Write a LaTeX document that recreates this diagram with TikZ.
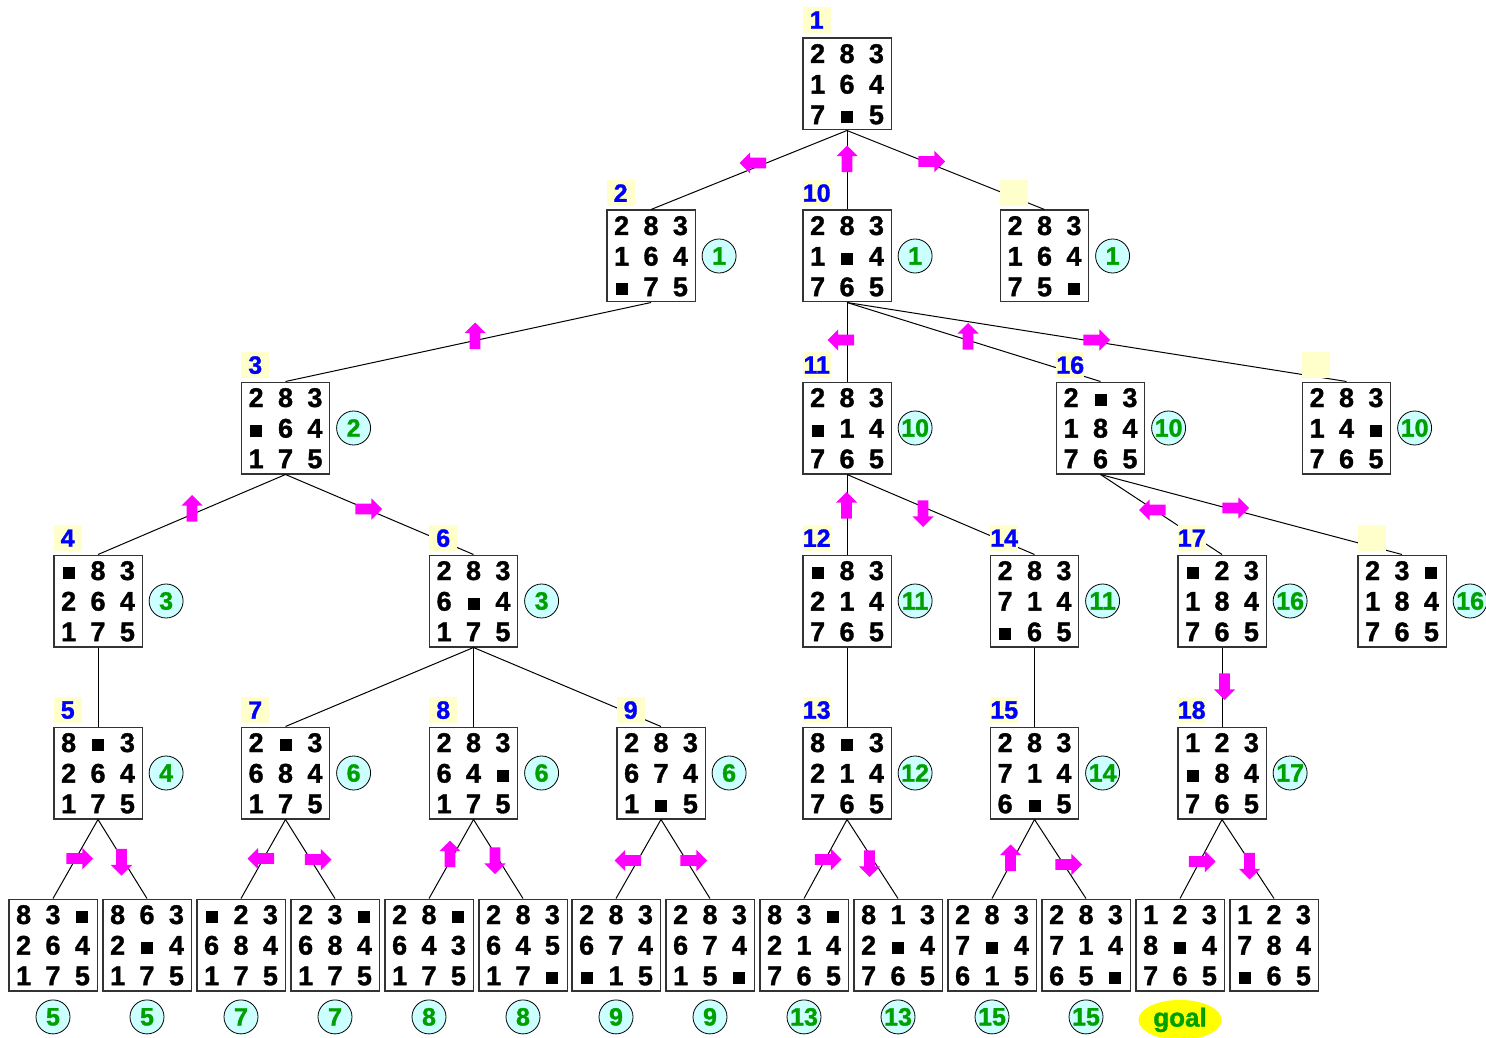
\documentclass[tikz,border=0pt]{standalone}
\usepackage{fontspec}
\setmainfont{Liberation Sans Bold}[FakeBold=1.3]
\usetikzlibrary{matrix, positioning, shapes.geometric, shapes.arrows}

\definecolor{tagbg}{HTML}{FFFFCC}
\definecolor{tagblue}{HTML}{0000FF}
\definecolor{costbg}{HTML}{CCFFFF}
\definecolor{costgreen}{HTML}{00A000}
\definecolor{movemag}{HTML}{FF00FF}
\definecolor{goalbg}{HTML}{FFFF00}

\newcommand{\hole}{\rule[0.5pt]{6pt}{6pt}}

\begin{document}
\begin{tikzpicture}[
    x=0.5pt, y=-0.5pt,
    board/.style={matrix of nodes, draw=black!80, line width=0.6pt, fill=white, inner sep=0pt,
      nodes={minimum width=14.7pt, minimum height=15.3pt, text height=9.6pt, text depth=0pt, inner sep=0pt, font=\fontsize{13.5}{16}\selectfont}},
    tag/.style={fill=tagbg, text=tagblue, minimum width=14pt, minimum height=13pt, inner sep=0pt, font=\fontsize{12.5}{14}\selectfont},
    cost/.style={circle, draw, line width=0.4pt, fill=costbg, text=costgreen, minimum size=17pt, inner sep=0pt, font=\fontsize{12.5}{14}\selectfont},
    goal/.style={ellipse, fill=goalbg, text=costgreen, minimum width=41.5pt, minimum height=20pt, inner sep=0pt, font=\fontsize{13}{14}\selectfont},
    edge/.style={line width=0.5pt},
    move/.style={single arrow, fill=movemag, inner sep=2.5pt, minimum height=13.3pt, minimum width=10.3pt, single arrow head extend=2.6pt},
    moveleft/.style={move, shape border rotate=180},
    moveright/.style={move, shape border rotate=0},
    moveup/.style={move, shape border rotate=90},
    movedown/.style={move, shape border rotate=270}
]
\useasboundingbox (0,0) rectangle (1486,1037);

% Level 0
\matrix (n1) [board] at (847,84) {2 & 8 & 3\\ 1 & 6 & 4\\ 7 & \hole & 5\\};

% Level 1
\matrix (n2) [board] at (651,256) {2 & 8 & 3\\ 1 & 6 & 4\\ \hole & 7 & 5\\};
\matrix (n10) [board] at (847,256) {2 & 8 & 3\\ 1 & \hole & 4\\ 7 & 6 & 5\\};
\matrix (r2) [board] at (1044.5,256) {2 & 8 & 3\\ 1 & 6 & 4\\ 7 & 5 & \hole\\};

% Level 2
\matrix (n3) [board] at (285.5,428) {2 & 8 & 3\\ \hole & 6 & 4\\ 1 & 7 & 5\\};
\matrix (n11) [board] at (847,428) {2 & 8 & 3\\ \hole & 1 & 4\\ 7 & 6 & 5\\};
\matrix (n16) [board] at (1100.5,428) {2 & \hole & 3\\ 1 & 8 & 4\\ 7 & 6 & 5\\};
\matrix (r3) [board] at (1346.5,428) {2 & 8 & 3\\ 1 & 4 & \hole\\ 7 & 6 & 5\\};

% Level 3
\matrix (n4) [board] at (98,601) {\hole & 8 & 3\\ 2 & 6 & 4\\ 1 & 7 & 5\\};
\matrix (n6) [board] at (473.5,601) {2 & 8 & 3\\ 6 & \hole & 4\\ 1 & 7 & 5\\};
\matrix (n12) [board] at (847,601) {\hole & 8 & 3\\ 2 & 1 & 4\\ 7 & 6 & 5\\};
\matrix (n14) [board] at (1034.5,601) {2 & 8 & 3\\ 7 & 1 & 4\\ \hole & 6 & 5\\};
\matrix (n17) [board] at (1222,601) {\hole & 2 & 3\\ 1 & 8 & 4\\ 7 & 6 & 5\\};
\matrix (r4) [board] at (1402,601) {2 & 3 & \hole\\ 1 & 8 & 4\\ 7 & 6 & 5\\};

% Level 4
\matrix (n5) [board] at (98,773) {8 & \hole & 3\\ 2 & 6 & 4\\ 1 & 7 & 5\\};
\matrix (n7) [board] at (285.5,773) {2 & \hole & 3\\ 6 & 8 & 4\\ 1 & 7 & 5\\};
\matrix (n8) [board] at (473.5,773) {2 & 8 & 3\\ 6 & 4 & \hole\\ 1 & 7 & 5\\};
\matrix (n9) [board] at (661,773) {2 & 8 & 3\\ 6 & 7 & 4\\ 1 & \hole & 5\\};
\matrix (n13) [board] at (847,773) {8 & \hole & 3\\ 2 & 1 & 4\\ 7 & 6 & 5\\};
\matrix (n15) [board] at (1034.5,773) {2 & 8 & 3\\ 7 & 1 & 4\\ 6 & \hole & 5\\};
\matrix (n18) [board] at (1222,773) {1 & 2 & 3\\ \hole & 8 & 4\\ 7 & 6 & 5\\};

% Level 5
\matrix (b1) [board] at (53,945) {8 & 3 & \hole\\ 2 & 6 & 4\\ 1 & 7 & 5\\};
\matrix (b2) [board] at (147,945) {8 & 6 & 3\\ 2 & \hole & 4\\ 1 & 7 & 5\\};
\matrix (b3) [board] at (241,945) {\hole & 2 & 3\\ 6 & 8 & 4\\ 1 & 7 & 5\\};
\matrix (b4) [board] at (335,945) {2 & 3 & \hole\\ 6 & 8 & 4\\ 1 & 7 & 5\\};
\matrix (b5) [board] at (429,945) {2 & 8 & \hole\\ 6 & 4 & 3\\ 1 & 7 & 5\\};
\matrix (b6) [board] at (523,945) {2 & 8 & 3\\ 6 & 4 & 5\\ 1 & 7 & \hole\\};
\matrix (b7) [board] at (616,945) {2 & 8 & 3\\ 6 & 7 & 4\\ \hole & 1 & 5\\};
\matrix (b8) [board] at (710,945) {2 & 8 & 3\\ 6 & 7 & 4\\ 1 & 5 & \hole\\};
\matrix (b9) [board] at (804,945) {8 & 3 & \hole\\ 2 & 1 & 4\\ 7 & 6 & 5\\};
\matrix (b10) [board] at (898,945) {8 & 1 & 3\\ 2 & \hole & 4\\ 7 & 6 & 5\\};
\matrix (b11) [board] at (992,945) {2 & 8 & 3\\ 7 & \hole & 4\\ 6 & 1 & 5\\};
\matrix (b12) [board] at (1086,945) {2 & 8 & 3\\ 7 & 1 & 4\\ 6 & 5 & \hole\\};
\matrix (b13) [board] at (1180,945) {1 & 2 & 3\\ 8 & \hole & 4\\ 7 & 6 & 5\\};
\matrix (b14) [board] at (1274,945) {1 & 2 & 3\\ 7 & 8 & 4\\ \hole & 6 & 5\\};

% Tree edges
\draw [edge] (n1.south) -- (n2.north);
\draw [edge] (n1.south) -- (n10.north);
\draw [edge] (n1.south) -- (r2.north);
\draw [edge] (n2.south) -- (n3.north);
\draw [edge] (n10.south) -- (n11.north);
\draw [edge] (n10.south) -- (n16.north);
\draw [edge] (n10.south) -- (r3.north);
\draw [edge] (n3.south) -- (n4.north);
\draw [edge] (n3.south) -- (n6.north);
\draw [edge] (n11.south) -- (n12.north);
\draw [edge] (n11.south) -- (n14.north);
\draw [edge] (n16.south) -- (n17.north);
\draw [edge] (n16.south) -- (r4.north);
\draw [edge] (n4.south) -- (n5.north);
\draw [edge] (n6.south) -- (n7.north);
\draw [edge] (n6.south) -- (n8.north);
\draw [edge] (n6.south) -- (n9.north);
\draw [edge] (n12.south) -- (n13.north);
\draw [edge] (n14.south) -- (n15.north);
\draw [edge] (n17.south) -- (n18.north);
\draw [edge] (n5.south) -- (b1.north);
\draw [edge] (n5.south) -- (b2.north);
\draw [edge] (n7.south) -- (b3.north);
\draw [edge] (n7.south) -- (b4.north);
\draw [edge] (n8.south) -- (b5.north);
\draw [edge] (n8.south) -- (b6.north);
\draw [edge] (n9.south) -- (b7.north);
\draw [edge] (n9.south) -- (b8.north);
\draw [edge] (n13.south) -- (b9.north);
\draw [edge] (n13.south) -- (b10.north);
\draw [edge] (n15.south) -- (b11.north);
\draw [edge] (n15.south) -- (b12.north);
\draw [edge] (n18.south) -- (b13.north);
\draw [edge] (n18.south) -- (b14.north);

% Blank moves
\node (m2) [moveleft] at (755.5,163) {};
\node (m10) [moveup] at (847,161.5) {};
\node (mr2) [moveright] at (929,161.5) {};
\node (m3) [moveup] at (475,338.5) {};
\node (m11) [moveleft] at (843.5,340) {};
\node (m16) [moveup] at (968,339) {};
\node (mr3) [moveright] at (1094,340) {};
\node (m4) [moveup] at (192,511) {};
\node (m6) [moveright] at (366,509) {};
\node (m12) [moveup] at (846.5,508) {};
\node (m14) [movedown] at (923,511) {};
\node (m17) [moveleft] at (1155,510) {};
\node (mr4) [moveright] at (1233,508) {};
\node (m18) [movedown] at (1224.5,684) {};
\node (mb1) [moveright] at (77,858.5) {};
\node (mb2) [movedown] at (121.5,859.5) {};
\node (mb3) [moveleft] at (263.5,858.5) {};
\node (mb4) [moveright] at (315.5,859.5) {};
\node (mb5) [moveup] at (450,856.5) {};
\node (mb6) [movedown] at (495,858) {};
\node (mb7) [moveleft] at (630.5,860.5) {};
\node (mb8) [moveright] at (691,860.5) {};
\node (mb9) [moveright] at (825.5,859.5) {};
\node (mb10) [movedown] at (869.5,861) {};
\node (mb11) [moveup] at (1010.5,860.5) {};
\node (mb12) [moveright] at (1066,864.5) {};
\node (mb13) [moveright] at (1199.5,861.5) {};
\node (mb14) [movedown] at (1249.5,863.5) {};

% Expansion order tags
\node (t1) [tag, above right=2pt and 0pt of n1.north west] {1};
\node (t2) [tag, above right=1.5pt and 0pt of n2.north west] {2};
\node (t10) [tag, above right=1.5pt and 0pt of n10.north west] {10};
\node (tr2) [tag, above right=1.5pt and 0pt of r2.north west] {};
\node (t3) [tag, above right=1.5pt and 0pt of n3.north west] {3};
\node (t11) [tag, above right=1.5pt and 0pt of n11.north west] {11};
\node (t16) [tag, above right=1.5pt and 0pt of n16.north west] {16};
\node (tr3) [tag, above right=1.5pt and 0pt of r3.north west] {};
\node (t4) [tag, above right=1.5pt and 0pt of n4.north west] {4};
\node (t6) [tag, above right=1.5pt and 0pt of n6.north west] {6};
\node (t12) [tag, above right=1.5pt and 0pt of n12.north west] {12};
\node (t14) [tag, above right=1.5pt and 0pt of n14.north west] {14};
\node (t17) [tag, above right=1.5pt and 0pt of n17.north west] {17};
\node (tr4) [tag, above right=1.5pt and 0pt of r4.north west] {};
\node (t5) [tag, above right=1.5pt and 0pt of n5.north west] {5};
\node (t7) [tag, above right=1.5pt and 0pt of n7.north west] {7};
\node (t8) [tag, above right=1.5pt and 0pt of n8.north west] {8};
\node (t9) [tag, above right=1.5pt and 0pt of n9.north west] {9};
\node (t13) [tag, above right=1.5pt and 0pt of n13.north west] {13};
\node (t15) [tag, above right=1.5pt and 0pt of n15.north west] {15};
\node (t18) [tag, above right=1.5pt and 0pt of n18.north west] {18};

% Path costs
\node (c2) [cost, right=3pt of n2] {1};
\node (c10) [cost, right=3pt of n10] {1};
\node (cr2) [cost, right=3pt of r2] {1};
\node (c3) [cost, right=3pt of n3] {2};
\node (c11) [cost, right=3pt of n11] {10};
\node (c16) [cost, right=3pt of n16] {10};
\node (cr3) [cost, right=3pt of r3] {10};
\node (c4) [cost, right=3pt of n4] {3};
\node (c6) [cost, right=3pt of n6] {3};
\node (c12) [cost, right=3pt of n12] {11};
\node (c14) [cost, right=3pt of n14] {11};
\node (c17) [cost, right=3pt of n17] {16};
\node (cr4) [cost, right=3pt of r4] {16};
\node (c5) [cost, right=3pt of n5] {4};
\node (c7) [cost, right=3pt of n7] {6};
\node (c8) [cost, right=3pt of n8] {6};
\node (c9) [cost, right=3pt of n9] {6};
\node (c13) [cost, right=3pt of n13] {12};
\node (c15) [cost, right=3pt of n15] {14};
\node (c18) [cost, right=3pt of n18] {17};
\node (cb1) [cost, below=4pt of b1] {5};
\node (cb2) [cost, below=4pt of b2] {5};
\node (cb3) [cost, below=4pt of b3] {7};
\node (cb4) [cost, below=4pt of b4] {7};
\node (cb5) [cost, below=4pt of b5] {8};
\node (cb6) [cost, below=4pt of b6] {8};
\node (cb7) [cost, below=4pt of b7] {9};
\node (cb8) [cost, below=4pt of b8] {9};
\node (cb9) [cost, below=4pt of b9] {13};
\node (cb10) [cost, below=4pt of b10] {13};
\node (cb11) [cost, below=4pt of b11] {15};
\node (cb12) [cost, below=4pt of b12] {15};
\node (gl) [goal, below=4pt of b13] {goal};

\end{tikzpicture}
\end{document}
